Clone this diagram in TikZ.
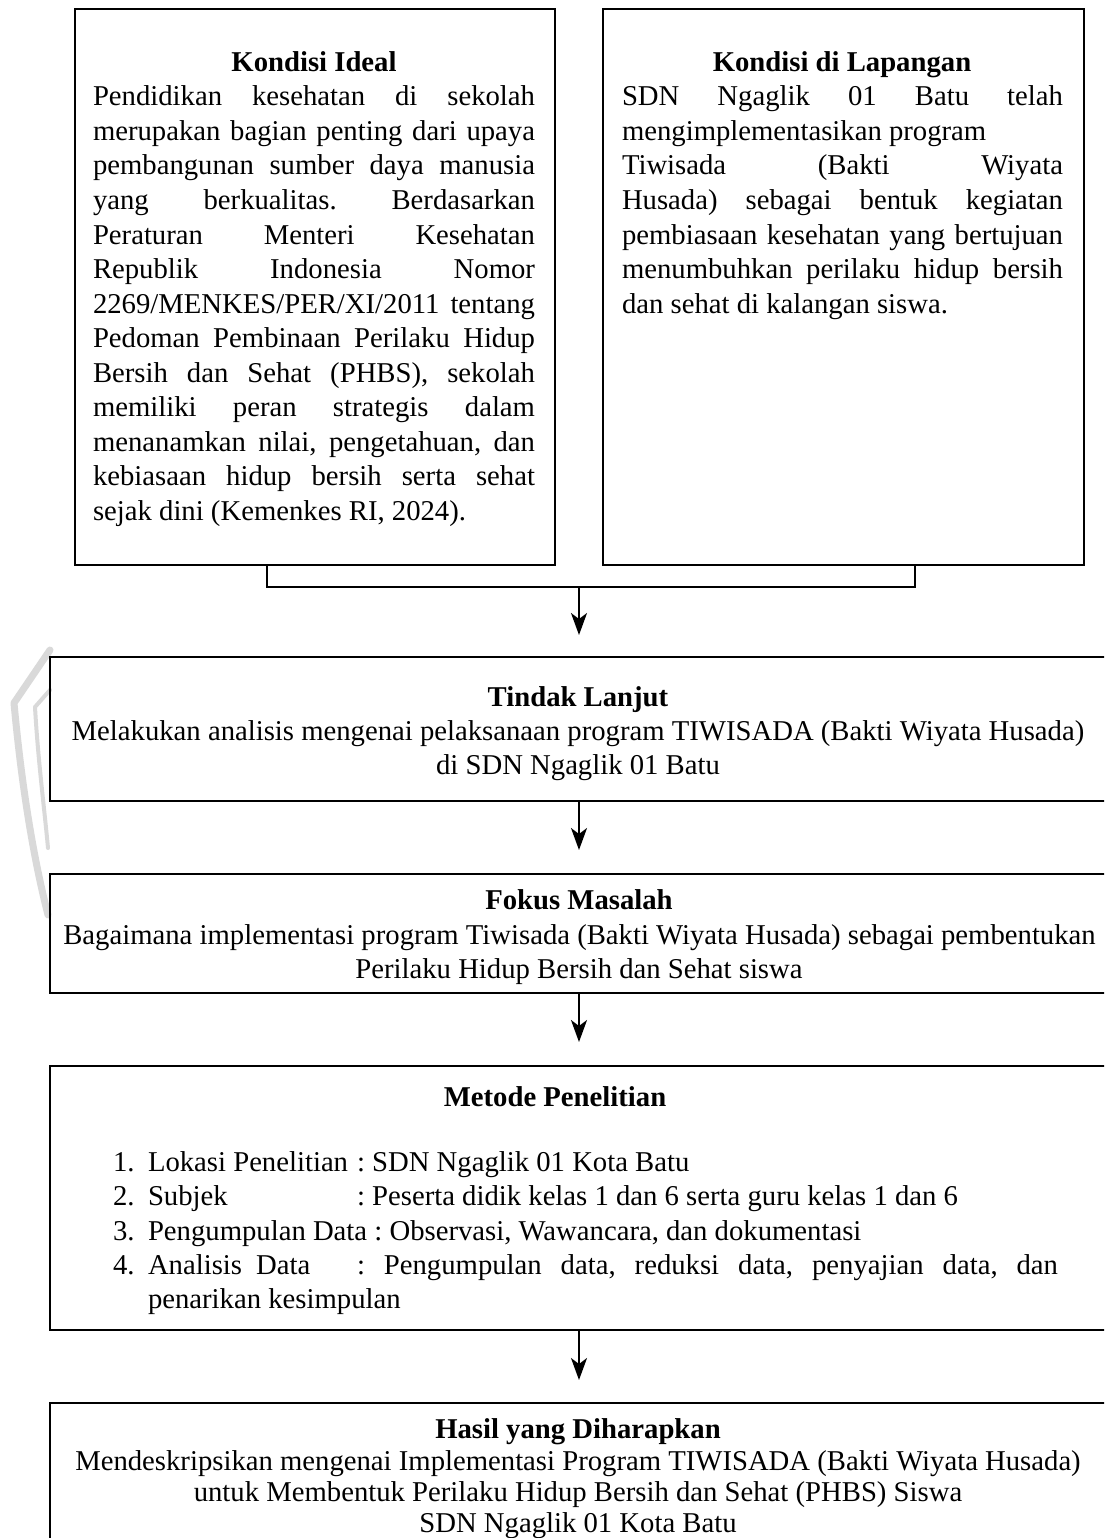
\documentclass[tikz,border=0pt]{standalone}
\usepackage{fontspec}
\setmainfont{Liberation Serif}
\usetikzlibrary{arrows.meta}
\newcommand{\jla}[1]{\makebox[442pt][s]{#1}}
\newcommand{\jlb}[1]{\makebox[441pt][s]{#1}}
\tikzset{
  txt/.style={font=\fontsize{28.7}{34.5}\selectfont\frenchspacing, inner sep=0pt, outer sep=0pt},
  lw/.style={txt, anchor=base west},
  bx/.style={draw, line width=2.2pt, inner sep=0pt, outer sep=0pt},
  conn/.style={line width=2pt},
  arr/.style={line width=2pt, -{Stealth[length=22pt,width=16pt,inset=6pt]}},
  wm/.style={draw=black!15, line cap=round, line join=round}
}
\begin{document}
\begin{tikzpicture}[x=1pt,y=-1pt]
\useasboundingbox (0,0) rectangle (1104,1538);
\fill[white] (0,0) rectangle (1104,1538);
\begin{scope}
\clip (0,0) rectangle (1104,1538);
% watermark traces
\draw[wm, line width=7pt] (50,650) -- (14,703) .. controls (22,790) and (34,860) .. (48,915);
\draw[wm, line width=4pt] (50,690) -- (35,707) .. controls (38,760) and (44,805) .. (48,848);

% boxes
\node[bx, minimum width=480pt, minimum height=556pt] (ideal) at (315,287) {};
\node[bx, minimum width=481pt, minimum height=556pt] (lap) at (843.5,287) {};
\node[bx, minimum width=1080pt, minimum height=144pt] (tl) at (590,729) {};
\node[bx, minimum width=1080pt, minimum height=119pt] (fm) at (590,933.5) {};
\node[bx, minimum width=1080pt, minimum height=264pt] (mp) at (590,1198) {};
\node[bx, minimum width=1080pt, minimum height=197pt] (hd) at (590,1501.5) {};

% Kondisi Ideal
\node[txt, anchor=base] (idealT) at (314,72) {\bfseries Kondisi Ideal};
\node[lw] (i1) at (93,106) {\jla{Pendidikan kesehatan di sekolah}};
\node[lw] (i2) at (93,140.5) {\jla{merupakan bagian penting dari upaya}};
\node[lw] (i3) at (93,175) {\jla{pembangunan sumber daya manusia}};
\node[lw] (i4) at (93,209.5) {\jla{yang berkualitas. Berdasarkan}};
\node[lw] (i5) at (93,244) {\jla{Peraturan Menteri Kesehatan}};
\node[lw] (i6) at (93,278.5) {\jla{Republik Indonesia Nomor}};
\node[lw] (i7) at (93,313) {\jla{2269/MENKES/PER/XI/2011 tentang}};
\node[lw] (i8) at (93,347.5) {\jla{Pedoman Pembinaan Perilaku Hidup}};
\node[lw] (i9) at (93,382) {\jla{Bersih dan Sehat (PHBS), sekolah}};
\node[lw] (i10) at (93,416.5) {\jla{memiliki peran strategis dalam}};
\node[lw] (i11) at (93,451) {\jla{menanamkan nilai, pengetahuan, dan}};
\node[lw] (i12) at (93,485.5) {\jla{kebiasaan hidup bersih serta sehat}};
\node[lw] (i13) at (93,520) {sejak dini (Kemenkes RI, 2024).};

% Kondisi di Lapangan
\node[txt, anchor=base] (lapT) at (842,72) {\bfseries Kondisi di Lapangan};
\node[lw] (k1) at (622,106) {\jlb{SDN Ngaglik 01 Batu telah}};
\node[lw] (k2) at (622,140.5) {mengimplementasikan program};
\node[lw] (k3) at (622,175) {\jlb{Tiwisada (Bakti Wiyata}};
\node[lw] (k4) at (622,209.5) {\jlb{Husada) sebagai bentuk kegiatan}};
\node[lw] (k5) at (622,244) {\jlb{pembiasaan kesehatan yang bertujuan}};
\node[lw] (k6) at (622,278.5) {\jlb{menumbuhkan perilaku hidup bersih}};
\node[lw] (k7) at (622,313) {dan sehat di kalangan siswa.};

% Tindak Lanjut
\node[txt, anchor=base] (tl1) at (578,706) {\bfseries Tindak Lanjut};
\node[txt, anchor=base] (tl2) at (578,740) {Melakukan analisis mengenai pelaksanaan program TIWISADA (Bakti Wiyata Husada)};
\node[txt, anchor=base] (tl3) at (578,774) {di SDN Ngaglik 01 Batu};

% Fokus Masalah
\node[txt, anchor=base] (fm1) at (579,909) {\bfseries Fokus Masalah};
\node[txt, anchor=base] (fm2) at (579.5,944) {Bagaimana implementasi program Tiwisada (Bakti Wiyata Husada) sebagai pembentukan};
\node[txt, anchor=base] (fm3) at (579,978) {Perilaku Hidup Bersih dan Sehat siswa};

% Metode Penelitian
\node[txt, anchor=base] (mpT) at (555,1106) {\bfseries Metode Penelitian};
\node[lw] (n1) at (113,1171) {1.};
\node[lw] (m1a) at (148,1171) {Lokasi Penelitian};
\node[lw] (m1b) at (357,1171) {: SDN Ngaglik 01 Kota Batu};
\node[lw] (n2) at (113,1205) {2.};
\node[lw] (m2a) at (148,1205) {Subjek};
\node[lw] (m2b) at (357,1205) {: Peserta didik kelas 1 dan 6 serta guru kelas 1 dan 6};
\node[lw] (n3) at (113,1240) {3.};
\node[lw] (m3) at (148,1240) {Pengumpulan Data : Observasi, Wawancara, dan dokumentasi};
\node[lw] (n4) at (113,1274) {4.};
\node[lw] (m4a) at (148,1274) {Analisis\hspace{14pt}Data};
\node[lw] (m4b) at (357,1274) {\makebox[701pt][s]{: Pengumpulan data, reduksi data, penyajian data, dan}};
\node[lw] (m5) at (148,1308) {penarikan kesimpulan};

% Hasil yang Diharapkan
\node[txt, anchor=base] (hd1) at (578,1438) {\bfseries Hasil yang Diharapkan};
\node[txt, anchor=base] (hd2) at (578,1470) {Mendeskripsikan mengenai Implementasi Program TIWISADA (Bakti Wiyata Husada)};
\node[txt, anchor=base] (hd3) at (578,1501) {untuk Membentuk Perilaku Hidup Bersih dan Sehat (PHBS) Siswa};
\node[txt, anchor=base] (hd4) at (578,1532) {SDN Ngaglik 01 Kota Batu};

% connectors
\coordinate (ax) at (579,0);
\coordinate (bl) at (267,587);
\coordinate (br) at (915,587);
\draw[conn, line join=miter] (ideal.south -| bl) -- (bl) -- (br) -- (lap.south -| br);
\path (tl.north -| ax) ++(0,-22) coordinate (tip1);
\path (fm.north -| ax) ++(0,-24) coordinate (tip2);
\path (mp.north -| ax) ++(0,-24) coordinate (tip3);
\path (hd.north -| ax) ++(0,-23) coordinate (tip4);
\draw[arr] (bl -| ax) -- (tip1);
\draw[arr] (tl.south -| ax) -- (tip2);
\draw[arr] (fm.south -| ax) -- (tip3);
\draw[arr] (mp.south -| ax) -- (tip4);
\end{scope}
\end{tikzpicture}
\end{document}
